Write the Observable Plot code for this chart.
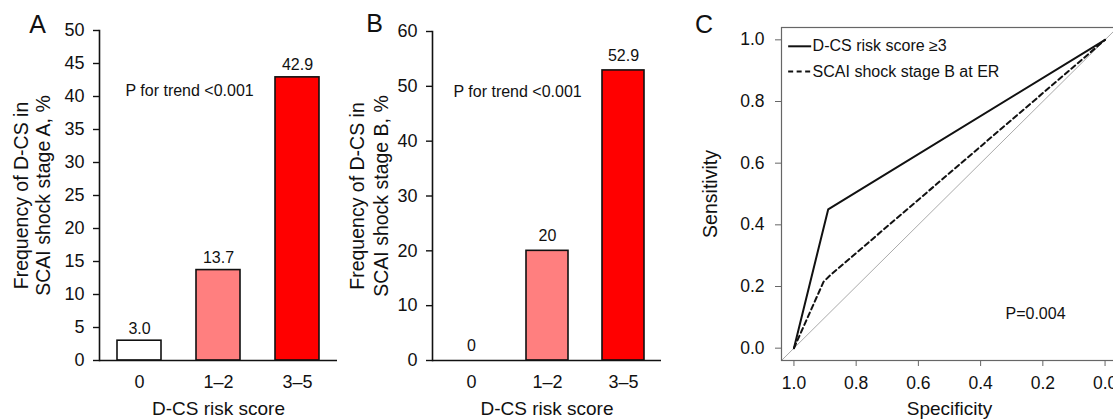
<!DOCTYPE html>
<html>
<head>
<meta charset="utf-8">
<script src="https://cdn.jsdelivr.net/npm/d3@7"></script>
<script src="https://cdn.jsdelivr.net/npm/@observablehq/plot@0.6"></script>
<style>
  html, body { margin: 0; padding: 0; background: white; overflow: hidden; }
  #fig { position: relative; width: 1113px; height: 419px; overflow: hidden; background: white; }
  #fig svg { position: absolute; top: 0; }
</style>
</head>
<body>
<div id="fig"></div>
<script>
// ---- data ----
const categories = ["0", "1–2", "3–5"];
const valuesA = [3.0, 13.7, 42.9];
const labelsA = ["3.0", "13.7", "42.9"];
const valuesB = [0, 20, 52.9];
const labelsB = ["0", "20", "52.9"];
const ticksA = [0, 5, 10, 15, 20, 25, 30, 35, 40, 45, 50];
const ticksB = [0, 10, 20, 30, 40, 50, 60];
const ticksC = [0, 0.2, 0.4, 0.6, 0.8, 1.0];
const pTrendText = "P for trend <0.001";

const rocSpecDCS = [1.0, 0.89, 0.0];
const rocSensDCS = [0.0, 0.45, 1.0];
const rocSpecSCAI = [1.0, 0.905, 0.885, 0.0];
const rocSensSCAI = [0.0, 0.215, 0.235, 1.0];
const legendNames = ["D-CS risk score ≥3", "SCAI shock stage B at ER"];
const pRocText = "P=0.004";

const FONT = "'Liberation Sans', Arial, Helvetica, sans-serif";
const barColors = ["#ffffff", "#ff7f7f", "#ff0000"];

const fig = document.getElementById("fig");

function barPanel(o) {
  const data = categories.map((c, i) => ({cat: c, value: o.values[i], label: o.labels[i]}));
  const svg = Plot.plot({
    width: o.width,
    height: 419,
    marginLeft: o.marginLeft,
    marginRight: o.marginRight,
    marginTop: o.marginTop,
    marginBottom: 59,
    style: {fontFamily: FONT, fontSize: "18px", background: "white", color: "#111", overflow: "visible"},
    x: {domain: categories, paddingInner: o.pad, paddingOuter: o.pad / 2, label: null},
    y: {domain: o.yDomain, label: null},
    color: {domain: categories, range: barColors},
    marks: [
      Plot.barY(data, {x: "cat", y: "value", fill: "cat", stroke: "#111", strokeWidth: 1.6}),
      Plot.ruleY([0], {stroke: "#111", strokeWidth: 1.6}),
      Plot.frame({anchor: "left", stroke: "#111", strokeWidth: 1.6}),
      Plot.axisY({ticks: o.ticks, tickSize: 6, tickPadding: 9, fontSize: 18, label: null, strokeWidth: 1.4}),
      Plot.axisX({tickSize: 0, tickPadding: 15, fontSize: 18, label: null}),
      Plot.text(data, {x: "cat", y: "value", text: "label", dy: o.labelDy, fontSize: 16}),
      Plot.text([o.letter], {frameAnchor: "top-left", dx: o.letterDx, dy: o.letterDy, textAnchor: "middle", lineAnchor: "middle", fontSize: 25}),
      Plot.text([pTrendText], {frameAnchor: "top-left", dx: o.pDx, dy: 60, textAnchor: "start", lineAnchor: "middle", fontSize: 16}),
      Plot.text([o.ylabel1], {frameAnchor: "left", dx: o.yl1, rotate: -90, textAnchor: "middle", lineAnchor: "middle", fontSize: 19.5}),
      Plot.text([o.ylabel2], {frameAnchor: "left", dx: o.yl2, rotate: -90, textAnchor: "middle", lineAnchor: "middle", fontSize: 19.5}),
      Plot.text(["D-CS risk score"], {frameAnchor: "bottom", dy: 48, textAnchor: "middle", lineAnchor: "middle", fontSize: 19})
    ]
  });
  svg.style.left = o.left + "px";
  fig.appendChild(svg);
}

barPanel({
  left: 0, width: 345, marginLeft: 99, marginRight: 8, marginTop: 30, pad: 0.44,
  values: valuesA, labels: labelsA, yDomain: [0, 50], ticks: ticksA, labelDy: -12,
  letter: "A", letterDx: -62, letterDy: -6, pDx: 26,
  ylabel1: "Frequency of D-CS in", ylabel2: "SCAI shock stage A, %", yl1: -78, yl2: -56
});

barPanel({
  left: 345, width: 335, marginLeft: 87, marginRight: 19, marginTop: 31, pad: 0.45,
  values: valuesB, labels: labelsB, yDomain: [0, 60], ticks: ticksB, labelDy: -15,
  letter: "B", letterDx: -58, letterDy: -8, pDx: 21,
  ylabel1: "Frequency of D-CS in", ylabel2: "SCAI shock stage B, %", yl1: -75, yl2: -51
});

// ---- ROC panel ----
const dcs = rocSpecDCS.map((s, i) => ({spec: s, sens: rocSensDCS[i]}));
const scai = rocSpecSCAI.map((s, i) => ({spec: s, sens: rocSensSCAI[i]}));
const xDom = [1.04, -0.04];
const yDom = [-0.04, 1.04];
const diag = [{spec: xDom[0], sens: 1 - xDom[0]}, {spec: xDom[1], sens: 1 - xDom[1]}];
const legendRows = [
  {name: legendNames[0], y: 0.979},
  {name: legendNames[1], y: 0.897}
];

const svgC = Plot.plot({
  width: 440,
  height: 419,
  marginLeft: 101,
  marginRight: 3,
  marginTop: 27,
  marginBottom: 59,
  style: {fontFamily: FONT, fontSize: "17px", background: "white", color: "#111", overflow: "visible"},
  x: {domain: xDom, label: null},
  y: {domain: yDom, label: null},
  marks: [
    Plot.line(diag, {x: "spec", y: "sens", stroke: "#aaa", strokeWidth: 1}),
    Plot.line(scai, {x: "spec", y: "sens", stroke: "#111", strokeWidth: 2, strokeDasharray: "5,3.5"}),
    Plot.line(dcs, {x: "spec", y: "sens", stroke: "#111", strokeWidth: 2}),
    Plot.frame({stroke: "#666", strokeWidth: 1.2}),
    Plot.axisY({ticks: ticksC, tickFormat: d3.format(".1f"), tickSize: 6, tickPadding: 11, fontSize: 17.5, label: null, stroke: "#666"}),
    Plot.axisX({ticks: ticksC, tickFormat: d3.format(".1f"), tickSize: 6, tickPadding: 10, fontSize: 17.5, label: null, stroke: "#666"}),
    Plot.ruleY([legendRows[0]], {y: "y", x1: 1.017, x2: 0.943, stroke: "#111", strokeWidth: 2}),
    Plot.ruleY([legendRows[1]], {y: "y", x1: 1.017, x2: 0.943, stroke: "#111", strokeWidth: 2, strokeDasharray: "5,3.5"}),
    Plot.text(legendRows, {x: 0.94, y: "y", text: "name", textAnchor: "start", lineAnchor: "middle", fontSize: 16}),
    Plot.text([pRocText], {x: 0.32, y: 0.11, textAnchor: "start", lineAnchor: "middle", fontSize: 16}),
    Plot.text(["C"], {frameAnchor: "top-left", dx: -77.5, dy: -3, textAnchor: "middle", lineAnchor: "middle", fontSize: 25}),
    Plot.text(["Sensitivity"], {frameAnchor: "left", dx: -71, rotate: -90, textAnchor: "middle", lineAnchor: "middle", fontSize: 19.5}),
    Plot.text(["Specificity"], {frameAnchor: "bottom", dy: 48, textAnchor: "middle", lineAnchor: "middle", fontSize: 19})
  ]
});
svgC.style.left = "680px";
fig.appendChild(svgC);
</script>
</body>
</html>
